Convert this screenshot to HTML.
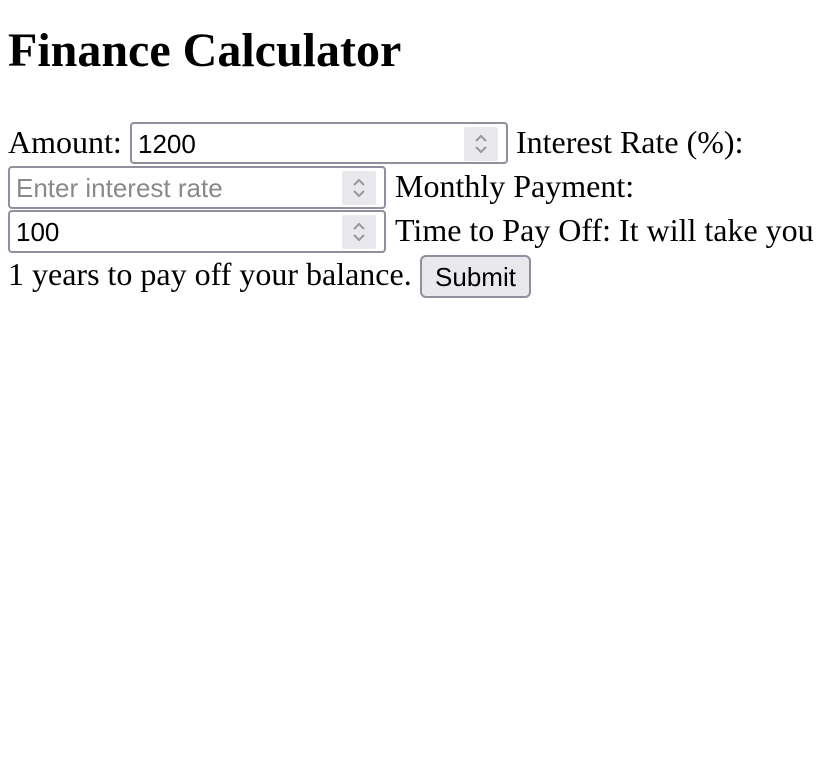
<!DOCTYPE html>
<html><head><meta charset="utf-8"><style>
body{margin:0;width:826px;height:768px;background:#fff;font-family:"Liberation Serif",serif;color:#000;position:relative;overflow:hidden}
.a{position:absolute;white-space:nowrap}
h1{position:absolute;left:8px;top:21px;margin:0;font-size:48px;font-weight:bold;line-height:60px}
.t{font-size:32px;line-height:44px}
.inp{position:absolute;box-sizing:border-box;border:2px solid #8f8f9d;border-radius:4px;background:#fff;font-family:"Liberation Sans",sans-serif;font-size:26px;line-height:40px;padding-left:6px}
.sp{position:absolute;right:8px;top:3px;width:34px;height:34px;background:#e9e9ed;border-radius:2px}
.sp svg{position:absolute;left:9px;top:6px}
.btn{position:absolute;box-sizing:border-box;border:2px solid #8f8f9d;border-radius:6px;background:#e9e9ed;font-family:"Liberation Sans",sans-serif;font-size:26px;line-height:40px;text-align:center}
</style></head><body>
<h1>Finance Calculator</h1>
<div class="a t" style="left:8px;top:120px">Amount:</div>
<div class="inp" style="left:130px;top:122px;width:378px;height:42px">1200<div class="sp"><svg width="16" height="22"><path d="M3 8 L8 3 L13 8 M3 14 L8 19 L13 14" stroke="#999" stroke-width="2" fill="none"/></svg></div></div>
<div class="a t" style="left:516px;top:120px">Interest Rate (%):</div>
<div class="inp" style="left:8px;top:166px;width:378px;height:43px;color:#8a8a8a">Enter interest rate<div class="sp"><svg width="16" height="22"><path d="M3 8 L8 3 L13 8 M3 14 L8 19 L13 14" stroke="#999" stroke-width="2" fill="none"/></svg></div></div>
<div class="a t" style="left:395px;top:164px">Monthly Payment:</div>
<div class="inp" style="left:8px;top:210px;width:378px;height:43px">100<div class="sp"><svg width="16" height="22"><path d="M3 8 L8 3 L13 8 M3 14 L8 19 L13 14" stroke="#999" stroke-width="2" fill="none"/></svg></div></div>
<div class="a t" style="left:395px;top:208px">Time to Pay Off: It will take you</div>
<div class="a t" style="left:8px;top:252px">1 years to pay off your balance.</div>
<div class="btn" style="left:420px;top:255px;width:111px;height:43px">Submit</div>
</body></html>
